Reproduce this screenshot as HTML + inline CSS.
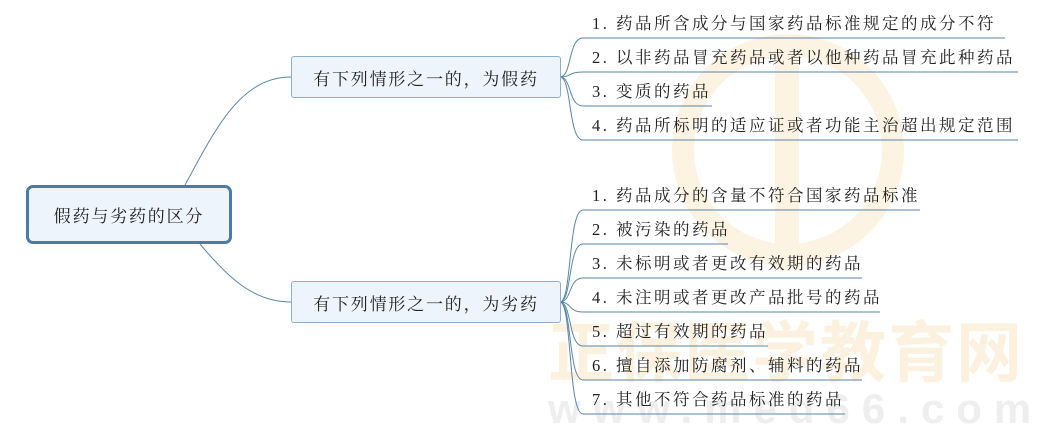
<!DOCTYPE html>
<html><head><meta charset="utf-8"><style>
body{margin:0;width:1042px;height:428px;background:#fff;overflow:hidden;position:relative;font-family:"Liberation Serif","Noto Serif CJK SC",serif;}
.wm{position:absolute;color:#fbf1de;font-family:"Liberation Sans","Noto Sans CJK SC",sans-serif;font-weight:bold;white-space:nowrap;}
.box{position:absolute;box-sizing:border-box;background:#eef4fb;display:flex;align-items:center;justify-content:center;color:#222;letter-spacing:1.8px;white-space:nowrap;}
.leaf{position:absolute;left:592px;font-size:16.5px;letter-spacing:2.5px;color:#222;white-space:nowrap;line-height:20px;}
svg{position:absolute;left:0;top:0;}
</style></head><body>
<svg width="1042" height="428">
<circle cx="788" cy="150" r="105" fill="none" stroke="#fcf3e2" stroke-width="22"/>
<rect x="775" y="40" width="24" height="230" fill="#fcf3e2"/>
</svg>
<div class="wm" style="left:548px;top:300px;font-size:66px;letter-spacing:2px;">正保医学教育网</div>
<div class="wm" style="left:548px;top:385px;font-size:42px;color:#eeeeee;letter-spacing:12px;">www.med66.com</div>
<svg width="1042" height="428" fill="none" stroke="#5a86a8" stroke-width="1">
<path d="M185 185 C215 130 240 77 291 77"/>
<path d="M200 244 C230 280 255 302 291 302"/>
<g>
<path d="M560 77 C572 77 568 38 583 38 L1005 38"/>
<path d="M560 77 C572 77 568 72 583 72 L1018 72"/>
<path d="M560 77 C572 77 568 106 583 106 L712 106"/>
<path d="M560 77 C572 77 568 140 583 140 L1018 140"/>
<path d="M560 302 C572 302 568 210 583 210 L920 210"/>
<path d="M560 302 C572 302 568 244 583 244 L728 244"/>
<path d="M560 302 C572 302 568 278 583 278 L862 278"/>
<path d="M560 302 C572 302 568 312 583 312 L880 312"/>
<path d="M560 302 C572 302 568 346 583 346 L768 346"/>
<path d="M560 302 C572 302 568 380 583 380 L862 380"/>
<path d="M560 302 C572 302 568 414 583 414 L845 414"/>
</g>
</svg>
<div class="box" style="left:26px;top:185px;width:206px;height:59px;border:3px solid #4a7ba6;border-radius:7px;font-size:17px;">假药与劣药的区分</div>
<div class="box" style="left:291px;top:56px;width:270px;height:42px;border:1px solid #8fb0cc;border-radius:3px;font-size:17px;">有下列情形之一的，为假药</div>
<div class="box" style="left:291px;top:281px;width:270px;height:42px;border:1px solid #8fb0cc;border-radius:3px;font-size:17px;">有下列情形之一的，为劣药</div>
<div class="leaf" style="top:14px">1. 药品所含成分与国家药品标准规定的成分不符</div>
<div class="leaf" style="top:48px">2. 以非药品冒充药品或者以他种药品冒充此种药品</div>
<div class="leaf" style="top:82px">3. 变质的药品</div>
<div class="leaf" style="top:116px">4. 药品所标明的适应证或者功能主治超出规定范围</div>
<div class="leaf" style="top:186px">1. 药品成分的含量不符合国家药品标准</div>
<div class="leaf" style="top:220px">2. 被污染的药品</div>
<div class="leaf" style="top:254px">3. 未标明或者更改有效期的药品</div>
<div class="leaf" style="top:288px">4. 未注明或者更改产品批号的药品</div>
<div class="leaf" style="top:322px">5. 超过有效期的药品</div>
<div class="leaf" style="top:356px">6. 擅自添加防腐剂、辅料的药品</div>
<div class="leaf" style="top:390px">7. 其他不符合药品标准的药品</div>
</body></html>
